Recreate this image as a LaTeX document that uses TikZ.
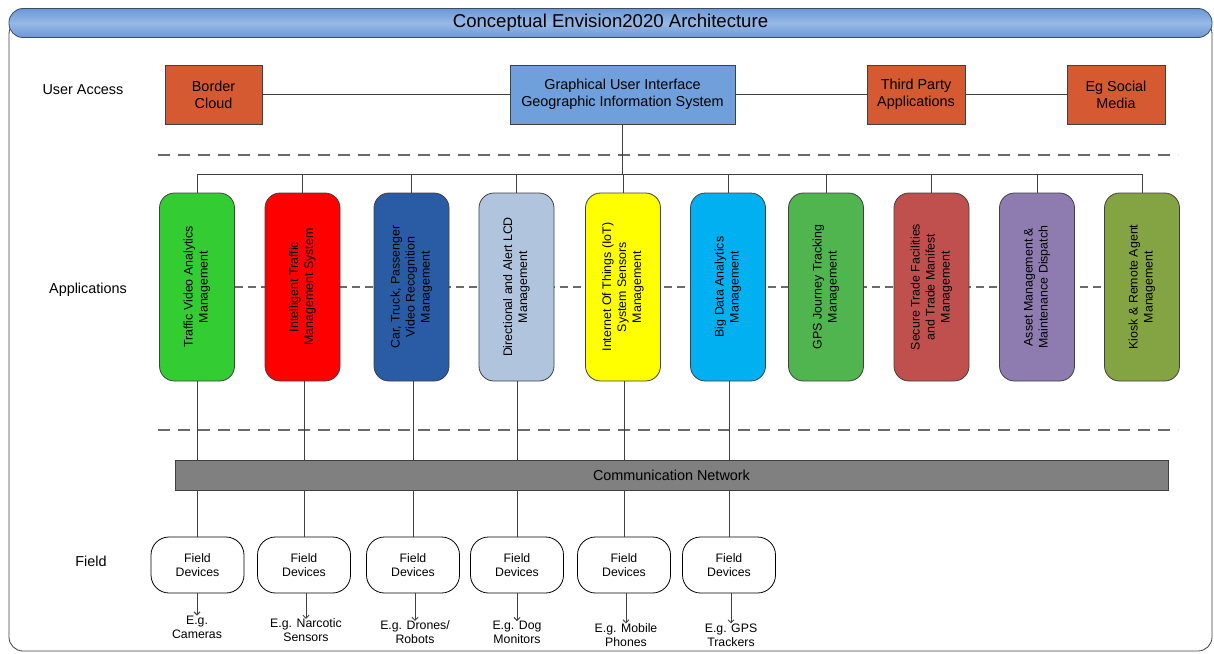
\documentclass[tikz,border=0pt]{standalone}
\usepackage{fontspec}
\usepackage{graphicx}
\setmainfont{Liberation Sans}
\usetikzlibrary{arrows.meta,backgrounds}
\definecolor{linec}{HTML}{404040}
\definecolor{dashc}{HTML}{6A6A6A}
\definecolor{orangebox}{HTML}{D65A31}
\definecolor{guiblue}{HTML}{6FA0DC}
\definecolor{titledark}{HTML}{6C98D6}
\definecolor{titlelight}{HTML}{96B9E6}
\definecolor{titleborder}{HTML}{3C4C66}
\definecolor{netgray}{HTML}{808080}
\definecolor{appA}{HTML}{33CC33}
\definecolor{appB}{HTML}{FF0000}
\definecolor{appC}{HTML}{2A5BA5}
\definecolor{appD}{HTML}{B0C4DE}
\definecolor{appE}{HTML}{FFFF00}
\definecolor{appF}{HTML}{00B0F0}
\definecolor{appG}{HTML}{50B44F}
\definecolor{appH}{HTML}{C0504D}
\definecolor{appI}{HTML}{8E7CB0}
\definecolor{appJ}{HTML}{84A443}
\newcommand\vtxt[1]{\rotatebox{90}{\begin{tabular}{@{}c@{}}#1\end{tabular}}}
\begin{document}
\begin{tikzpicture}[x=1pt,y=-1pt,
  topbox/.style={draw=linec, line width=0.8pt, minimum height=59pt, inner sep=0pt, align=center, font=\fontsize{14.4}{17}\selectfont},
  appbox/.style={draw=linec, line width=0.8pt, rounded corners=15pt, minimum width=75pt, minimum height=188pt, inner sep=0pt, font=\fontsize{12.4}{15}\selectfont},
  fieldbox/.style={draw=black, line width=0.8pt, rounded corners=18pt, fill=white, minimum width=93pt, minimum height=56pt, inner sep=0pt, align=center, font=\fontsize{12.3}{14}\selectfont},
  exlabel/.style={align=center, inner sep=0pt, font=\fontsize{12.3}{14}\selectfont},
  sidelabel/.style={inner sep=0pt, font=\fontsize{14.4}{17}\selectfont},
  conn/.style={draw=linec, line width=0.9pt},
  sepdash/.style={draw=dashc, line width=1.7pt, dash pattern=on 12pt off 8pt},
  appdash/.style={draw=dashc, line width=1.4pt, dash pattern=on 8pt off 5pt},
  arr/.style={conn, -{Straight Barb[length=3pt,width=6pt]}}
]
\useasboundingbox (0,0) rectangle (1214,653);

% outer frame
\draw[draw=linec, line width=0.8pt, rounded corners=14pt] (9,20) rectangle (1212,651);

% title bar
\node[draw=titleborder, line width=0.8pt, rounded corners=14pt, minimum width=1203pt, minimum height=29pt,
      top color=titledark, bottom color=titledark, middle color=titlelight,
      font=\fontsize{18.6}{21}\selectfont] (title) at (610.5,23) {Conceptual Envision2020 Architecture};

% side labels
\node[sidelabel] (ua) at (83,90) {User Access};
\node[sidelabel] (ap) at (88,290) {Applications};
\node[sidelabel] (fd) at (91,561) {Field};

% separators
\coordinate (s1a) at (158,155); \coordinate (s1b) at (1178,155);
\coordinate (s2a) at (158,430); \coordinate (s2b) at (1178,430);
\draw[sepdash] (s1a) -- (s1b);
\draw[sepdash] (s2a) -- (s2b);

% user access row
\node[topbox, fill=orangebox, minimum width=97pt] (bc) at (213.5,94.5) {Border\\Cloud};
\node[topbox, fill=guiblue, minimum width=225pt] (gui) at (622.5,94.5) {Graphical User Interface\\Geographic Information System};
\node[topbox, fill=orangebox, minimum width=98pt] (tp) at (916,94.5) {Third Party\\Applications};
\node[topbox, fill=orangebox, minimum width=98pt] (sm) at (1116,94.5) {Eg Social\\Media};
\draw[conn] (bc) -- (gui);
\draw[conn] (gui) -- (tp);
\draw[conn] (tp) -- (sm);

% applications
\node[appbox, fill=appA] (a1) at (197,287) {\vtxt{Traffic Video Analytics\\Management}};
\node[appbox, fill=appB] (a2) at (302.5,287) {\vtxt{Intelligent Traffic\\Management System}};
\node[appbox, fill=appC] (a3) at (411.5,287) {\vtxt{Car, Truck, Passenger\\Video Recognition\\Management}};
\node[appbox, fill=appD] (a4) at (516.5,287) {\vtxt{Directional and Alert LCD\\Management}};
\node[appbox, fill=appE] (a5) at (623,287) {\vtxt{Internet Of Things (IoT)\\System Sensors\\Management}};
\node[appbox, fill=appF] (a6) at (728,287) {\vtxt{Big Data Analytics\\Management}};
\node[appbox, fill=appG] (a7) at (826,287) {\vtxt{GPS Journey Tracking\\Management}};
\node[appbox, fill=appH] (a8) at (931.5,287) {\vtxt{Secure Trade Facilities\\and Trade Manifest\\Management}};
\node[appbox, fill=appI] (a9) at (1037,287) {\vtxt{Asset Management \&\\Maintenance Dispatch}};
\node[appbox, fill=appJ] (a10) at (1142,287) {\vtxt{Kiosk \& Remote Agent\\Management}};

\begin{scope}[on background layer]
\draw[appdash] (a1) -- (a10);
\end{scope}

% bus
\coordinate (busL) at (197,174);
\coordinate (busR) at (1142,174);
\draw[conn] (busL) -- (busR);
\draw[conn] (gui) -- (gui |- busL);
\foreach \i in {1,...,10} { \draw[conn] (a\i) -- (a\i |- busL); }

% network
\node[draw=linec, line width=0.8pt, fill=netgray, minimum width=993pt, minimum height=30pt, inner sep=0pt,
      font=\fontsize{14.4}{17}\selectfont] (net) at (671.5,475) {Communication Network};

% field devices
\node[fieldbox] (f1) at (197.5,565) {Field\\Devices};
\node[fieldbox] (f2) at (304,565) {Field\\Devices};
\node[fieldbox] (f3) at (413,565) {Field\\Devices};
\node[fieldbox] (f4) at (517,565) {Field\\Devices};
\node[fieldbox] (f5) at (624,565) {Field\\Devices};
\node[fieldbox] (f6) at (729,565) {Field\\Devices};

\foreach \i in {1,...,6} {
  \draw[conn] (a\i.south -| f\i) -- (net.north -| f\i);
  \draw[conn] (net.south -| f\i) -- (f\i);
}

% examples
\node[exlabel] (l1) at (197,627) {E.g.\\Cameras};
\node[exlabel] (l2) at (306,630.5) {E.g. Narcotic\\Sensors};
\node[exlabel] (l3) at (415,632.5) {E.g. Drones/\\Robots};
\node[exlabel] (l4) at (517,632.5) {E.g. Dog\\Monitors};
\node[exlabel] (l5) at (626,635) {E.g. Mobile\\Phones};
\node[exlabel] (l6) at (731,635) {E.g. GPS\\Trackers};
\foreach \i in {1,...,6} { \draw[arr] (f\i.south -| l\i) -- (l\i.north); }
\end{tikzpicture}
\end{document}
